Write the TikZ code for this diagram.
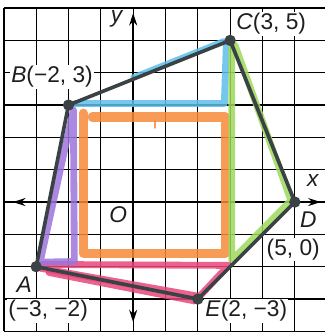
\documentclass[tikz,border=0pt]{standalone}
\usepackage{fontspec}
\setmainfont{Liberation Sans}
\usetikzlibrary{arrows.meta}
\definecolor{edgecol}{HTML}{3A4246}
\definecolor{textcol}{HTML}{1E1E1E}
\definecolor{morange}{HTML}{F7893A}
\definecolor{mblue}{HTML}{5DBDEA}
\definecolor{mgreen}{HTML}{9ED95A}
\definecolor{mpink}{HTML}{E8467A}
\definecolor{mpurple}{HTML}{9C74DC}
\begin{document}
\begin{tikzpicture}[
  gridline/.style={black, line width=1.1pt},
  axisline/.style={black, line width=2.2pt, {Stealth[length=11pt,width=7pt]}-{Stealth[length=11pt,width=7pt]}},
  edgeline/.style={draw=edgecol, line width=3.2pt, line join=round, line cap=round},
  vdot/.style={circle, fill=edgecol, inner sep=0pt, minimum size=10pt},
  marker/.style={line width=6pt, line join=round, line cap=round, opacity=0.85},
  lbl/.style={font=\fontsize{20}{22}\selectfont, fill=white, inner sep=1pt, text=textcol},
  plainlbl/.style={font=\fontsize{20}{22}\selectfont, inner sep=1pt, text=textcol},
]
\useasboundingbox (-4.12,-4.02) rectangle (5.94,6.25);
\clip (-4.12,-4.02) rectangle (5.94,6.25);
% grid
\foreach \x in {-4,...,5} \draw[gridline] (\x,-4) -- (\x,6);
\foreach \y in {-4,...,6} \draw[gridline] (-4,\y) -- (5.94,\y);
% axes
\coordinate (xl) at (-3.72,0);
\coordinate (xr) at (5.8,0);
\coordinate (yb) at (0,-3.72);
\coordinate (yt) at (0,5.85);
\draw[axisline] (xl) -- (xr);
\draw[axisline] (yb) -- (yt);
% vertices
\coordinate (A) at (-3,-2);
\coordinate (B) at (-2,3);
\coordinate (C) at (3,5);
\coordinate (D) at (5,0);
\coordinate (E) at (2,-3);
% marker highlights
\draw[marker, morange, line width=8pt] (-1.27,2.63) -- (2.85,2.63) -- (2.85,-1.58) -- (-1.55,-1.58) -- (-1.55,2.75);
\draw[marker, morange, line width=2pt] (0.68,2.5) -- (0.68,2.3);
\draw[marker, mblue] (-1.8,3.05) -- (2.82,3.05) -- (2.88,4.85);
\draw[marker, mblue, line width=5pt] (0.0,3.86) -- (2.8,4.98);
\draw[marker, mgreen] (3.05,4.8) -- (3.05,-1.8) -- (4.88,0.05) -- (3.15,4.85);
\draw[marker, mpink] (-2.85,-1.93) -- (2.95,-1.96) -- (2.05,-2.92) -- (-2.85,-2.05);
\draw[marker, mpink] (-2.6,-2.18) -- (1.9,-3.06);
\draw[marker, mpurple] (-1.85,2.85) -- (-1.82,-1.84) -- (-2.88,-1.86) -- cycle;
% polygon
\draw[edgeline] (A) -- (B) -- (C) -- (D) -- (E) -- cycle;
\foreach \v in {A,B,C,D,E} \node[vdot] at (\v) {};
% labels
\node[lbl] (lB) at (-2.51,3.87) {\textit{B}(−2, 3)};
\node[lbl] (lC) at (4.27,5.51) {\textit{C}(3, 5)};
\node[lbl] (lD) at (5.42,-0.56) {\textit{D}};
\node[lbl] (lD2) at (4.95,-1.46) {(5, 0)};
\node[lbl] (lE) at (3.5,-3.37) {\textit{E}(2, −3)};
\node[lbl] (lA) at (-3.37,-2.55) {\textit{A}};
\node[lbl] (lA2) at (-2.63,-3.37) {(−3, −2)};
\node[plainlbl] (lx) at (5.57,0.68) {\textit{x}};
\node[plainlbl] (ly) at (-0.5,5.67) {\textit{y}};
\node[plainlbl] (lO) at (-0.46,-0.4) {\textit{O}};
\end{tikzpicture}
\end{document}
